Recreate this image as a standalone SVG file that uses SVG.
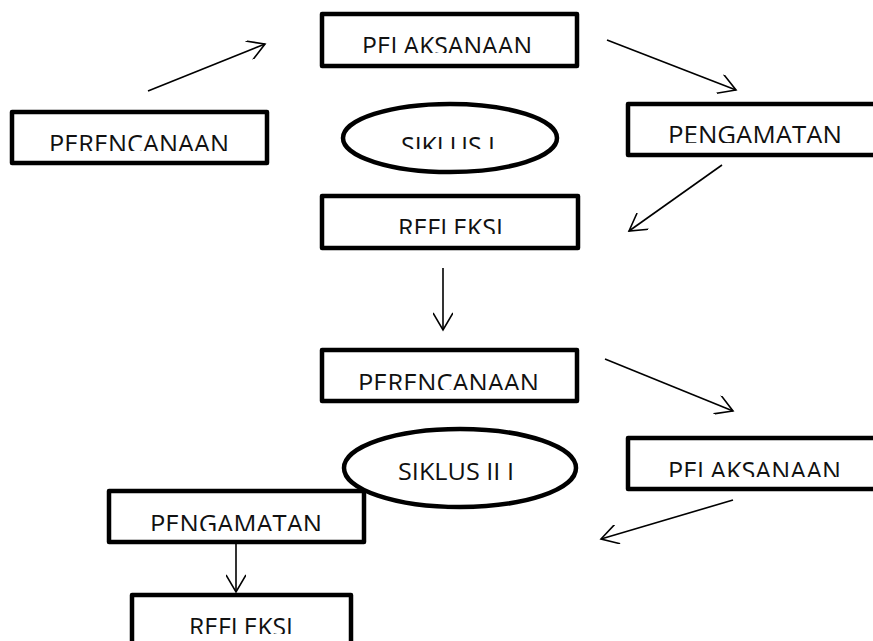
<svg xmlns="http://www.w3.org/2000/svg" width="873" height="641" viewBox="0 0 873 641">
<style>
.box{fill:#fff;stroke:#000;stroke-width:4.5;stroke-linejoin:round}
.ell{fill:#fff;stroke:#000;stroke-width:4.5}
.lbl{font-family:"Open Sans","Noto Sans","Liberation Sans",sans-serif;font-size:25px;fill:#111}
.arr{fill:none;stroke:#000;stroke-width:1.6;marker-end:url(#ah)}
</style>
<defs>
<marker id="ah" viewBox="0 0 20 20" refX="18" refY="10" markerWidth="20" markerHeight="20" markerUnits="userSpaceOnUse" orient="auto">
<path d="M1,0 L18,10 L1,20" fill="none" stroke="#000" stroke-width="1.6"/>
</marker>
<clipPath id="c1"><rect x="0" y="0" width="873" height="151"/></clipPath>
<clipPath id="c2"><rect x="0" y="0" width="873" height="53"/></clipPath>
<clipPath id="c3"><rect x="0" y="0" width="873" height="149"/></clipPath>
<clipPath id="c4"><rect x="0" y="0" width="873" height="143"/></clipPath>
<clipPath id="c5"><rect x="0" y="0" width="873" height="234"/></clipPath>
<clipPath id="c6"><rect x="0" y="0" width="873" height="390"/></clipPath>
<clipPath id="c7"><rect x="0" y="0" width="873" height="477"/></clipPath>
<clipPath id="c8"><rect x="0" y="0" width="873" height="531"/></clipPath>
<clipPath id="c9"><rect x="0" y="0" width="873" height="634"/></clipPath>
</defs>
<g id="connectors">
<line class="arr" x1="148" y1="91" x2="265" y2="44"/>
<line class="arr" x1="607" y1="40" x2="736" y2="90"/>
<line class="arr" x1="722" y1="165" x2="629" y2="231"/>
<line class="arr" x1="443" y1="268" x2="443" y2="330"/>
<line class="arr" x1="605" y1="359" x2="733" y2="411"/>
<line class="arr" x1="733" y1="500" x2="601" y2="539"/>
<line class="arr" x1="236" y1="543" x2="236" y2="592"/>
</g>
<g id="perencanaan1">
<rect class="box" x="12" y="112" width="255" height="51"/>
<text class="lbl" x="49" y="153" textLength="180" lengthAdjust="spacingAndGlyphs" clip-path="url(#c1)">PERENCANAAN</text>
</g>
<g id="pelaksanaan1">
<rect class="box" x="322" y="14" width="255" height="52"/>
<text class="lbl" x="362" y="55" textLength="170" lengthAdjust="spacingAndGlyphs" clip-path="url(#c2)">PELAKSANAAN</text>
</g>
<g id="siklus1">
<ellipse class="ell" cx="450" cy="138" rx="107" ry="34"/>
<text class="lbl" x="401" y="155" textLength="94" lengthAdjust="spacingAndGlyphs" clip-path="url(#c3)">SIKLUS I</text>
</g>
<g id="pengamatan1">
<rect class="box" x="628" y="104" width="280" height="51"/>
<text class="lbl" x="668" y="144" textLength="174" lengthAdjust="spacingAndGlyphs" clip-path="url(#c4)">PENGAMATAN</text>
</g>
<g id="refleksi1">
<rect class="box" x="322" y="196" width="256" height="52"/>
<text class="lbl" x="398" y="237" textLength="105" lengthAdjust="spacingAndGlyphs" clip-path="url(#c5)">REFLEKSI</text>
</g>
<g id="perencanaan2">
<rect class="box" x="322" y="350" width="255" height="51"/>
<text class="lbl" x="358" y="392" textLength="181" lengthAdjust="spacingAndGlyphs" clip-path="url(#c6)">PERENCANAAN</text>
</g>
<g id="pelaksanaan2">
<rect class="box" x="628" y="438" width="280" height="51"/>
<text class="lbl" x="668" y="480" textLength="173" lengthAdjust="spacingAndGlyphs" clip-path="url(#c7)">PELAKSANAAN</text>
</g>
<g id="pengamatan2">
<rect class="box" x="109" y="491" width="255" height="51"/>
<text class="lbl" x="150" y="533" textLength="172" lengthAdjust="spacingAndGlyphs" clip-path="url(#c8)">PENGAMATAN</text>
</g>
<g id="siklus2">
<ellipse class="ell" cx="460" cy="468" rx="116" ry="39"/>
<text class="lbl" x="398" y="480" textLength="116" lengthAdjust="spacingAndGlyphs" style="font-size:24px">SIKLUS II I</text>
</g>
<g id="refleksi2">
<rect class="box" x="132" y="595" width="219" height="70"/>
<text class="lbl" x="189" y="636" textLength="104" lengthAdjust="spacingAndGlyphs" clip-path="url(#c9)">REFLEKSI</text>
</g>
</svg>
